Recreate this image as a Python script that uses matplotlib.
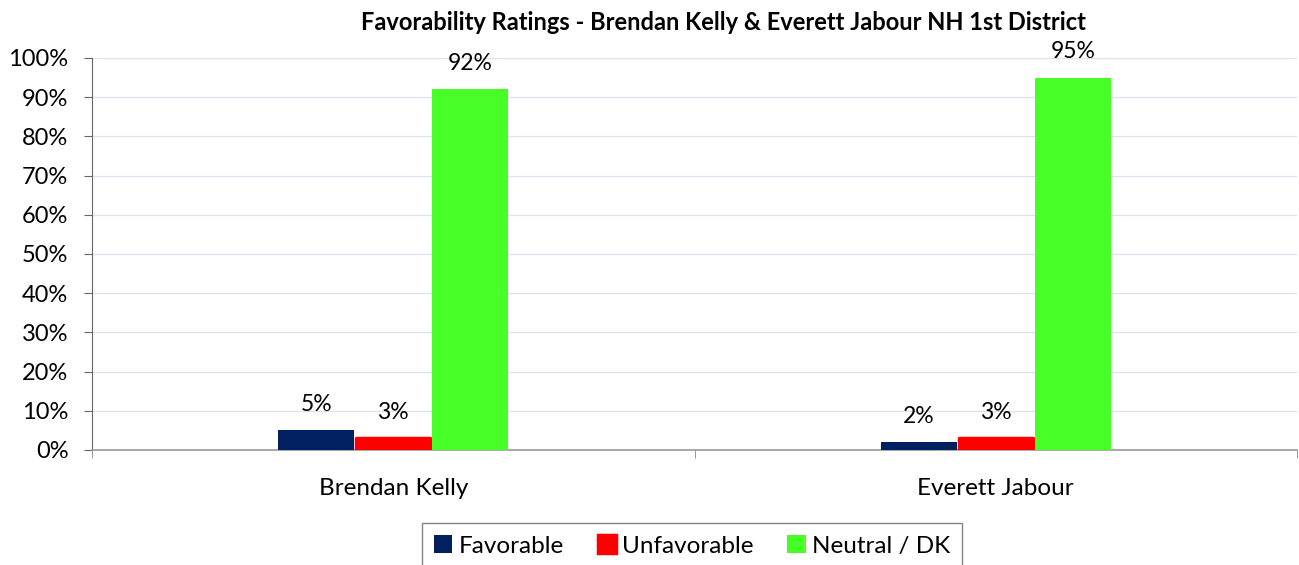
import matplotlib
matplotlib.use("Agg")
import matplotlib.pyplot as plt
import numpy as np

categories = ["Brendan Kelly", "Everett Jabour"]
series_names = ["Favorable", "Unfavorable", "Neutral / DK"]
favorable = [5, 2]
unfavorable = [3, 3]
neutral = [92, 95]
colors = ["#002060", "#FF0000", "#47FF26"]
yticks = [0, 10, 20, 30, 40, 50, 60, 70, 80, 90, 100]

plt.rcParams['font.family'] = ['Lato', 'DejaVu Sans']

fig = plt.figure(figsize=(12.99, 5.65), dpi=100)
ax = fig.add_axes([92/1299, 1-450/565, (1297-92)/1299, (450-58)/565])

x = np.arange(len(categories))
w = 0.126
data = [favorable, unfavorable, neutral]
for i, (vals, c, name) in enumerate(zip(data, colors, series_names)):
    pos = x + (i - 1) * (w + 0.002)
    if i == 1:
        bars = ax.bar(pos, vals, width=w - 0.004, color=c, label=name, zorder=3,
                      edgecolor=c, linewidth=2.5, joinstyle='round')
    else:
        bars = ax.bar(pos, vals, width=w, color=c, label=name, zorder=3)
    for xb, v in zip(pos, vals):
        ax.annotate(f"{v}%", (xb, v), xytext=(0, 11), textcoords="offset points",
                    ha="center", va="bottom", fontsize=16.5, color="#000000")

ax.set_xlim(-0.5, 1.5)
ax.set_ylim(0, 100)
ax.set_yticks(yticks)
ax.set_yticklabels([f"{t}%" for t in yticks], fontsize=17)
ax.set_xticks(x)
ax.set_xticklabels(categories, fontsize=17.5)
ax.tick_params(axis='x', length=0, pad=20)
ax.set_xticks([-0.5, 0.5, 1.5], minor=True)
ax.tick_params(axis='x', which='minor', length=6, color="#888888", direction='out')
ax.tick_params(axis='y', length=6, color="#666666", direction='out', pad=11)
ax.grid(axis='y', color="#D9E1F2", linewidth=0.9, zorder=0)
for s in ['top', 'right']:
    ax.spines[s].set_visible(False)
ax.spines['left'].set_color("#666666")
ax.spines['bottom'].set_color("#999999")
ax.spines['bottom'].set_linewidth(1.2)

fig.text(723/1299, 1-22/565, "Favorability Ratings - Brendan Kelly & Everett Jabour NH 1st District",
         ha="center", va="center", fontsize=17, fontweight="bold")

leg = fig.legend(loc="upper center", bbox_to_anchor=(692/1299, 1-523/565), ncol=3, fontsize=17.5,
                 frameon=True, fancybox=False, edgecolor="#666666", handlelength=0.75,
                 handleheight=0.75, columnspacing=1.4, handletextpad=0.25,
                 borderpad=0.5, borderaxespad=0)
leg.get_frame().set_linewidth(1.0)

fig.savefig("out.png", dpi=100)
